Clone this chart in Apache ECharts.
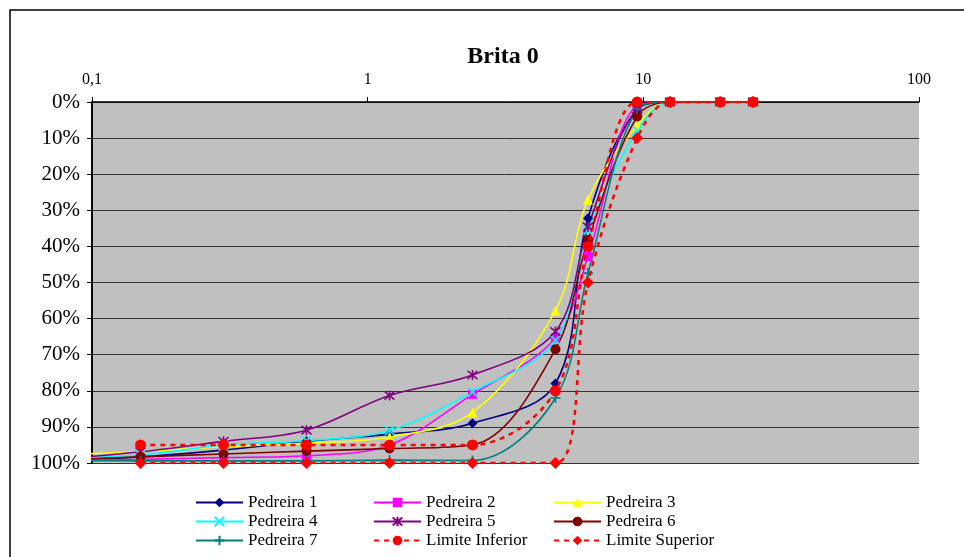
<!DOCTYPE html>
<html>
<head>
<meta charset="utf-8">
<script src="https://cdn.jsdelivr.net/npm/echarts@6/dist/echarts.min.js"></script>
<style>
  html, body { margin: 0; padding: 0; background: #ffffff; }
  #chart { width: 964px; height: 557px; }
</style>
</head>
<body>
<div id="chart"></div>
<script>
// Sieve openings (mm) and cumulative retained percentages
const sieves = [0.075, 0.15, 0.3, 0.6, 1.2, 2.4, 4.8, 6.3, 9.5, 12.5, 19, 25];
const limitSieves = [0.15, 0.3, 0.6, 1.2, 2.4, 4.8, 6.3, 9.5, 12.5, 19, 25];

const pedreira1 = [99.2, 98.3, 96.4, 94.0, 92.0, 89.0, 78.0, 32.2, 2.0, 0, 0, 0];
const pedreira2 = [99.2, 99.0, 98.5, 98.0, 95.0, 81.0, 65.4, 42.8, 1.0, 0, 0, 0];
const pedreira3 = [97.8, 96.8, 95.5, 94.5, 92.8, 86.0, 57.8, 27.0, 6.5, 0, 0, 0];
const pedreira4 = [98.5, 97.8, 95.0, 93.8, 91.0, 80.3, 66.0, 35.5, 8.0, 0, 0, 0];
const pedreira5 = [99.0, 96.9, 94.0, 90.9, 81.3, 75.6, 63.6, 34.6, 2.0, 0, 0, 0];
const pedreira6 = [99.2, 98.3, 97.5, 96.7, 96.0, 95.0, 68.5, 38.2, 4.0, 0, 0, 0];
const pedreira7 = [99.3, 99.4, 99.4, 99.4, 99.2, 99.3, 82.0, 47.4, 2.0, 0, 0, 0];
const limiteInferior = [95, 95, 95, 95, 95, 80, 40, 0, 0, 0, 0];
const limiteSuperior = [100, 100, 100, 100, 100, 100, 50, 10, 0, 0, 0];

const xTickLabels = { 0.1: '0,1', 1: '1', 10: '10', 100: '100' };

const FONT = '"Liberation Serif", "Times New Roman", serif';

const SYM_X = 'path://M0 0L10 10M10 0L0 10';
const SYM_STAR = 'path://M0 0L10 10M10 0L0 10M5 -1L5 11';
const SYM_PLUS = 'path://M5 0L5 10M0 5L10 5';

function pairs(xs, ys) { return xs.map((x, i) => [x, ys[i]]); }

function lineSeries(name, xs, ys, color, symbol, size, opts) {
  opts = opts || {};
  const stroked = typeof symbol === 'string' && symbol.indexOf('path://') === 0;
  return {
    name: name,
    type: 'line',
    data: pairs(xs, ys),
    smooth: 0.35,
    clip: true,
    symbol: symbol,
    symbolSize: size,
    showAllSymbol: true,
    lineStyle: { color: color, width: opts.width || 1.6, type: opts.dash || 'solid' },
    itemStyle: stroked
      ? { color: color, borderColor: color, borderWidth: 1.6 }
      : { color: color, borderWidth: 0 },
    emphasis: { disabled: true },
    z: opts.z || 2
  };
}

const chart = echarts.init(document.getElementById('chart'), null, { renderer: 'canvas' });

// Three legend columns, three rows each
const legendBase = {
  orient: 'vertical',
  top: 494,
  height: 90,
  itemWidth: 47,
  itemHeight: 12,
  itemGap: 2,
  padding: 0,
  textStyle: { fontFamily: FONT, fontSize: 17, lineHeight: 12, color: '#000' },
  selectedMode: false
};

chart.setOption({
  animation: false,
  backgroundColor: '#ffffff',
  title: {
    text: 'Brita 0',
    left: 498,
    textAlign: 'center',
    top: 40,
    textStyle: { fontFamily: FONT, fontSize: 24, fontWeight: 'bold', color: '#000' }
  },
  graphic: [{
    type: 'rect',
    shape: { x: 10, y: 10, width: 1000, height: 600 },
    style: { fill: null, stroke: '#000', lineWidth: 1.5 },
    silent: true,
    z: 100
  }],
  legend: [
    Object.assign({}, legendBase, { left: 195, data: ['Pedreira 1', 'Pedreira 4', 'Pedreira 7'] }),
    Object.assign({}, legendBase, { left: 373, data: ['Pedreira 2', 'Pedreira 5', 'Limite Inferior'] }),
    Object.assign({}, legendBase, { left: 553, data: ['Pedreira 3', 'Pedreira 6', 'Limite Superior'] })
  ],
  grid: {
    left: 92, top: 102, width: 827, height: 361,
    show: true, backgroundColor: '#c0c0c0', borderWidth: 0
  },
  xAxis: {
    type: 'log',
    logBase: 10,
    min: 0.1,
    max: 100,
    position: 'top',
    axisLine: { show: true, onZero: false, lineStyle: { color: '#000', width: 1.5 } },
    axisTick: { show: true, inside: false, length: 5, lineStyle: { color: '#000' } },
    minorTick: { show: false },
    splitLine: { show: false },
    axisLabel: {
      fontFamily: FONT, fontSize: 16, color: '#000', margin: 14,
      formatter: v => xTickLabels[v] !== undefined ? xTickLabels[v] : String(v).replace('.', ',')
    }
  },
  yAxis: {
    type: 'value',
    inverse: true,
    min: 0,
    max: 100,
    interval: 10,
    axisLine: { show: true, lineStyle: { color: '#000', width: 2 } },
    axisTick: { show: true, inside: false, length: 5, lineStyle: { color: '#000' } },
    splitLine: { show: true, lineStyle: { color: '#333', width: 1 } },
    axisLabel: {
      fontFamily: FONT, fontSize: 21, color: '#000', margin: 12,
      formatter: '{value}%'
    }
  },
  series: [
    lineSeries('Pedreira 1', sieves, pedreira1, '#000080', 'diamond', 10),
    lineSeries('Pedreira 2', sieves, pedreira2, '#ff00ff', 'rect', 9),
    lineSeries('Pedreira 3', sieves, pedreira3, '#ffff00', 'triangle', 10),
    lineSeries('Pedreira 4', sieves, pedreira4, '#00ffff', SYM_X, 9),
    lineSeries('Pedreira 5', sieves, pedreira5, '#800080', SYM_STAR, 10),
    lineSeries('Pedreira 6', sieves, pedreira6, '#800000', 'circle', 10),
    lineSeries('Pedreira 7', sieves, pedreira7, '#008080', SYM_PLUS, 10),
    lineSeries('Limite Inferior', limitSieves, limiteInferior, '#ff0000', 'circle', 11,
      { dash: [5, 5], width: 2.5, z: 3 }),
    lineSeries('Limite Superior', limitSieves, limiteSuperior, '#ff0000', 'diamond', 12,
      { dash: [5, 5], width: 2.5, z: 3 })
  ]
});
</script>
</body>
</html>
